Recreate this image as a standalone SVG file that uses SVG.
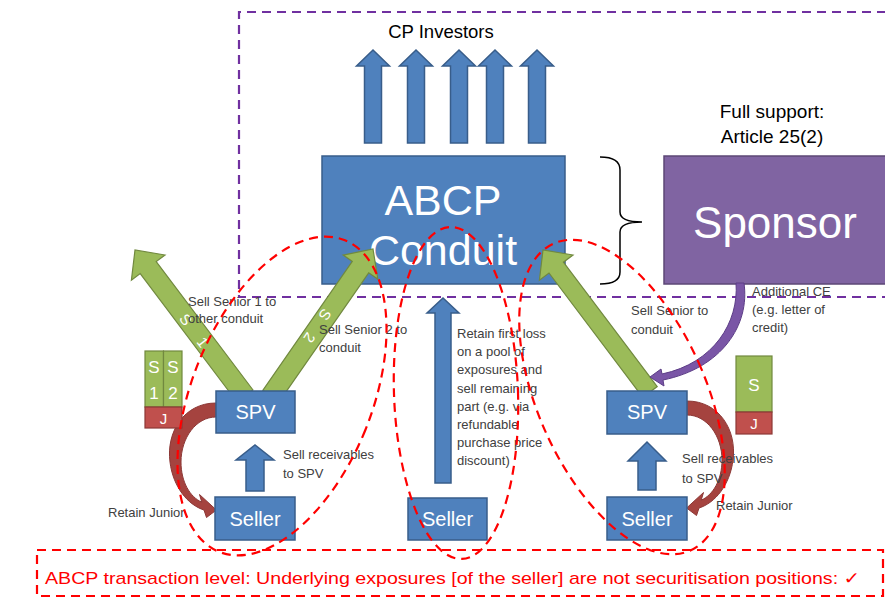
<svg xmlns="http://www.w3.org/2000/svg" width="885" height="598" viewBox="0 0 885 598">
<style>
  text { font-family: "Liberation Sans", "DejaVu Sans", Arial, sans-serif; }
  .blue { fill: #4F81BD; stroke: #385D8A; stroke-width: 1.5; }
  .green { fill: #9BBB59; stroke: #71893F; stroke-width: 1.2; }
  .red { fill: #C0504D; stroke: #8C3836; stroke-width: 1.2; }
  .dred { fill: #A5433F; stroke: #8C3836; stroke-width: 1; }
  .purp { fill: #8064A2; stroke: #5C4776; stroke-width: 1.5; }
  .purpArrow { fill: #7A56A6; stroke: #5C3D86; stroke-width: 1; }
  .rdash { fill: none; stroke: #FF0000; stroke-width: 2.2; stroke-dasharray: 9 6; }
  .pdash { fill: none; stroke: #7030A0; stroke-width: 2.2; stroke-dasharray: 9 6; }
  .lbl { font-size: 13px; fill: #404040; }
  .wt { fill: #FFFFFF; text-anchor: middle; }
</style>
<defs>
  <path id="cpArrow" d="M-8.5,93 V16 H-16.5 L0,0 L16.5,16 H8.5 V93 Z"/>
  <path id="curveArrow" d="M216,403 C184,403 166,432 170,462 C173,487 188,505 204,510 L206.5,517.5 L216.4,510 L199.5,494.5 L201.8,502.2 C190,497 181,482 181,462 C181,438 196,417 216,417 Z"/>
</defs>

<!-- purple dashed boundary -->
<g id="sponsor-boundary">
  <path class="pdash" d="M886,12 H239 V297 H886"/>
</g>

<!-- CP investors -->
<g id="cp-investors">
  <text x="441" y="38" font-size="18.5" text-anchor="middle" fill="#000">CP Investors</text>
  <g class="blue">
    <use href="#cpArrow" x="373" y="50"/>
    <use href="#cpArrow" x="416" y="50"/>
    <use href="#cpArrow" x="459" y="50"/>
    <use href="#cpArrow" x="495" y="50"/>
    <use href="#cpArrow" x="537" y="50"/>
  </g>
</g>

<!-- ABCP conduit -->
<g id="abcp-conduit">
  <rect class="blue" x="322" y="156" width="243" height="128"/>
  <text class="wt" x="443" y="215" font-size="43">ABCP</text>
  <text class="wt" x="443" y="265" font-size="43">Conduit</text>
</g>

<!-- brace -->
<g id="brace">
  <path d="M600,157 Q620,157 620,170 L620,212 Q620,222 642,222 Q620,222 620,232 L620,272 Q620,284 600,284" fill="none" stroke="#000" stroke-width="1.5"/>
</g>

<!-- sponsor -->
<g id="sponsor">
  <text x="772" y="118" font-size="19" text-anchor="middle" fill="#000">Full support:</text>
  <text x="772" y="143" font-size="19" text-anchor="middle" fill="#000">Article 25(2)</text>
  <rect class="purp" x="664" y="156" width="224" height="128"/>
  <text class="wt" x="775" y="238" font-size="44">Sponsor</text>
</g>

<!-- connectors -->
<g id="connectors">
  <!-- green senior arrows -->
  <polygon class="green" points="253,390 156.2,261.6 165,255 135,250 131.4,280.2 140.2,273.6 237,402"/>
  <polygon class="green" points="262.8,390.3 352.3,261.4 343.2,255.1 373,249 377.8,279.1 368.7,272.8 279.2,401.7"/>
  <polygon class="green" points="657.2,386.6 563.4,262.2 573,255 543,250 539.4,280.2 549,273 642.8,397.4"/>
  <!-- labels in arrows -->
  <text class="wt" font-size="15" transform="translate(185.6,319.8) rotate(53)" dy="5">S</text>
  <text class="wt" font-size="15" transform="translate(202.4,342.2) rotate(53)" dy="5">1</text>
  <text class="wt" font-size="15" transform="translate(324.8,314.4) rotate(124)" dy="5">S</text>
  <text class="wt" font-size="15" transform="translate(309.2,337.6) rotate(124)" dy="5">2</text>

  <!-- blue up arrows -->
  <path class="blue" d="M246,491 V460 H236 L255,445 L274,460 H264 V491 Z"/>
  <path class="blue" d="M638,490 V461 H628 L647,442 L666,461 H656 V490 Z"/>
  <path class="blue" d="M435,483 V313 H427 L443,298 L459,313 H451 V483 Z"/>

  <!-- retain junior curved arrows -->
  <use href="#curveArrow" class="dred"/>
  <use href="#curveArrow" class="dred" transform="translate(903,-2) scale(-1,1)"/>

  <!-- additional CE purple arrow -->
  <path class="purpArrow" d="M744,283 C750,325 722,368 663,380 L664,386 L650,377 L661,369 L662,374 C714,363 739,322 736,283 Z"/>
</g>

<!-- left SPV / seller -->
<g id="left-spv">
  <rect class="blue" x="216" y="391" width="79" height="42"/>
  <text class="wt" x="255.5" y="419" font-size="20">SPV</text>
</g>
<g id="left-seller">
  <rect class="blue" x="215" y="497" width="80" height="43"/>
  <text class="wt" x="255" y="526" font-size="20">Seller</text>
</g>
<g id="left-tranches">
  <rect class="green" x="145" y="351" width="18.5" height="56"/>
  <rect class="green" x="163.5" y="351" width="18.5" height="56"/>
  <rect class="red" x="145" y="407" width="37" height="21"/>
  <text class="wt" x="154" y="373" font-size="17">S</text>
  <text class="wt" x="154" y="399" font-size="17">1</text>
  <text class="wt" x="173" y="373" font-size="17">S</text>
  <text class="wt" x="173" y="399" font-size="17">2</text>
  <text class="wt" x="163.5" y="424" font-size="15">J</text>
</g>

<!-- middle seller -->
<g id="middle-seller">
  <rect class="blue" x="408" y="498" width="79" height="42"/>
  <text class="wt" x="447.5" y="526" font-size="20">Seller</text>
</g>

<!-- right SPV / seller -->
<g id="right-spv">
  <rect class="blue" x="607" y="391" width="80" height="43"/>
  <text class="wt" x="647" y="419" font-size="20">SPV</text>
</g>
<g id="right-seller">
  <rect class="blue" x="607" y="497" width="80" height="43"/>
  <text class="wt" x="647" y="526" font-size="20">Seller</text>
</g>
<g id="right-tranches">
  <rect class="green" x="736" y="356" width="36" height="56"/>
  <rect class="red" x="736" y="412" width="36" height="22"/>
  <text class="wt" x="754" y="391" font-size="17">S</text>
  <text class="wt" x="754" y="429" font-size="15">J</text>
</g>

<!-- labels -->
<g id="labels" class="lbl">
  <text class="lbl" x="188" y="306">Sell Senior 1 to</text>
  <text class="lbl" x="188" y="323">other conduit</text>
  <text class="lbl" x="319" y="334">Sell Senior 2 to</text>
  <text class="lbl" x="319" y="352">conduit</text>
  <text class="lbl" x="283" y="459">Sell receivables</text>
  <text class="lbl" x="283" y="478">to SPV</text>
  <text class="lbl" x="108" y="517">Retain Junior</text>
  <text class="lbl" x="457" y="338">Retain first loss</text>
  <text class="lbl" x="457" y="356">on a pool of</text>
  <text class="lbl" x="457" y="374">exposures and</text>
  <text class="lbl" x="457" y="393">sell remaining</text>
  <text class="lbl" x="457" y="411">part (e.g. via</text>
  <text class="lbl" x="457" y="429">refundable</text>
  <text class="lbl" x="457" y="447">purchase price</text>
  <text class="lbl" x="457" y="465">discount)</text>
  <text class="lbl" x="631" y="315">Sell Senior to</text>
  <text class="lbl" x="631" y="334">conduit</text>
  <text class="lbl" x="752" y="296">Additional CE</text>
  <text class="lbl" x="752" y="314">(e.g. letter of</text>
  <text class="lbl" x="752" y="332">credit)</text>
  <text class="lbl" x="682" y="463">Sell receivables</text>
  <text class="lbl" x="682" y="483">to SPV</text>
  <text class="lbl" x="716" y="510">Retain Junior</text>
</g>

<!-- transaction ellipses -->
<g id="transaction-ellipses">
  <ellipse class="rdash" cx="282" cy="396" rx="90" ry="168" transform="rotate(22 282 396)"/>
  <ellipse class="rdash" cx="456" cy="393" rx="62" ry="166" transform="rotate(-2 456 393)"/>
  <ellipse class="rdash" cx="622" cy="397" rx="84" ry="168" transform="rotate(-24 622 397)"/>
</g>

<!-- bottom statement -->
<g id="statement">
  <rect class="rdash" x="37" y="550" width="846" height="46"/>
  <text x="45" y="584" font-size="17" fill="#FF0000" textLength="815" lengthAdjust="spacingAndGlyphs">ABCP transaction level: Underlying exposures [of the seller] are not securitisation positions: ✓</text>
</g>
</svg>
